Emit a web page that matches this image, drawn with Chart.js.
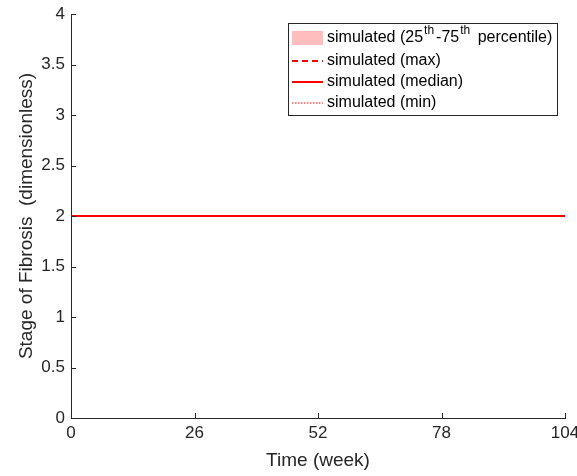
<!DOCTYPE html>
<html>
<head>
<meta charset="utf-8">
<script src="https://cdn.jsdelivr.net/npm/chart.js@4/dist/chart.umd.min.js"></script>
<style>
  body { margin: 0; background: #fff; }
  #wrap { width: 577px; height: 476px; }
</style>
</head>
<body>
<div id="wrap"><canvas id="myChart" width="577" height="476"></canvas></div>
<script>
// data
var weeks = [0, 13, 26, 39, 52, 65, 78, 91, 104];
var simMax = [2, 2, 2, 2, 2, 2, 2, 2, 2];
var simMedian = [2, 2, 2, 2, 2, 2, 2, 2, 2];
var simMin = [2, 2, 2, 2, 2, 2, 2, 2, 2];
var simP25 = [2, 2, 2, 2, 2, 2, 2, 2, 2];
var simP75 = [2, 2, 2, 2, 2, 2, 2, 2, 2];
var xTicks = [0, 26, 52, 78, 104];
var yTicks = [0, 0.5, 1, 1.5, 2, 2.5, 3, 3.5, 4];

function pts(ys) {
    return weeks.map(function (w, i) { return { x: w, y: ys[i] }; });
}

var FONT = '"Liberation Sans", Arial, sans-serif';
var AXIS = '#262626';

// MATLAB style ticks pointing into the plot
var innerTicks = {
    id: 'innerTicks',
    afterDraw: function (chart) {
        var c = chart.ctx, a = chart.chartArea;
        var xs = chart.scales.x, ys = chart.scales.y;
        c.save();
        c.strokeStyle = AXIS;
        c.lineWidth = 1;
        c.beginPath();
        xTicks.forEach(function (v) {
            var px = Math.round(xs.getPixelForValue(v)) + 0.5;
            c.moveTo(px, a.bottom);
            c.lineTo(px, a.bottom - 5);
        });
        yTicks.forEach(function (v) {
            var py = Math.round(ys.getPixelForValue(v)) + 0.5;
            c.moveTo(a.left, py);
            c.lineTo(a.left + 5, py);
        });
        c.stroke();
        c.restore();
    }
};

// legend box with superscripts
var matLegend = {
    id: 'matLegend',
    afterDraw: function (chart) {
        var c = chart.ctx;
        var bx = 288, by = 23, bw = 269, bh = 92;
        c.save();
        c.fillStyle = '#fff';
        c.fillRect(bx, by, bw, bh);
        c.strokeStyle = AXIS;
        c.lineWidth = 1;
        c.strokeRect(bx + 0.5, by + 0.5, bw, bh);

        var sx0 = 292, sx1 = 323, tx = 327;
        var rows = [38, 61, 82, 103];
        c.textBaseline = 'middle';

        // band swatch
        c.fillStyle = 'rgba(255,190,190,1)';
        c.fillRect(sx0, rows[0] - 7, sx1 - sx0, 14);
        c.fillStyle = '#000';
        var f = '16px ' + FONT, fs = '12px ' + FONT;
        var x = tx, y = rows[0];
        // [text, font, raise, gap after]
        var parts = [['simulated (25', f, 0, 1], ['th', fs, -7, 2], ['-75', f, 0, 1], ['th', fs, -7, 3], [' percentile)', f, 0, 0]];
        parts.forEach(function (p) {
            c.font = p[1];
            c.fillText(p[0], x, y + p[2]);
            x += c.measureText(p[0]).width + p[3];
        });

        var lines = [
            { label: 'simulated (max)', dash: [6, 4], w: 2 },
            { label: 'simulated (median)', dash: [], w: 2 },
            { label: 'simulated (min)', dash: [1.5, 1.5], w: 1.2 }
        ];
        lines.forEach(function (l, i) {
            var yy = rows[i + 1];
            c.strokeStyle = '#ff0000';
            c.lineWidth = l.w;
            c.setLineDash(l.dash);
            c.beginPath();
            c.moveTo(sx0, yy);
            c.lineTo(sx1, yy);
            c.stroke();
            c.setLineDash([]);
            c.font = f;
            c.fillStyle = '#000';
            c.fillText(l.label, tx, yy);
        });
        c.restore();
    }
};

var ctx = document.getElementById('myChart').getContext('2d');
var chart = new Chart(ctx, {
    type: 'line',
    data: {
        datasets: [
            { label: 'p75', data: pts(simP75), borderWidth: 0, pointRadius: 0,
              backgroundColor: 'rgba(255,190,190,1)', fill: '+1' },
            { label: 'p25', data: pts(simP25), borderWidth: 0, pointRadius: 0, fill: false },
            { label: 'simulated (max)', data: pts(simMax), borderColor: '#ff0000',
              borderWidth: 2, borderDash: [6, 4], pointRadius: 0, fill: false },
            { label: 'simulated (median)', data: pts(simMedian), borderColor: '#ff0000',
              borderWidth: 2, pointRadius: 0, fill: false },
            { label: 'simulated (min)', data: pts(simMin), borderColor: '#ff0000',
              borderWidth: 1.2, borderDash: [1.5, 1.5], pointRadius: 0, fill: false }
        ]
    },
    options: {
        responsive: false,
        animation: false,
        layout: { padding: { top: 14, right: 12, left: 0, bottom: 0 } },
        plugins: {
            legend: { display: false },
            tooltip: { enabled: false }
        },
        scales: {
            x: {
                type: 'linear',
                min: 0, max: 104,
                afterBuildTicks: function (s) { s.ticks = xTicks.map(function (v) { return { value: v }; }); },
                afterFit: function (s) { s.height = 58; s.paddingLeft = 0; s.paddingRight = 0; },
                grid: { drawOnChartArea: false, drawTicks: false },
                border: { color: AXIS, width: 1 },
                ticks: { color: '#262626', font: { family: FONT, size: 17 }, padding: 5, maxRotation: 0,
                         callback: function (v) { return String(v); } },
                title: { display: true, text: 'Time (week)', color: '#262626',
                         font: { family: FONT, size: 19 }, padding: { top: 4, bottom: 4 } }
            },
            y: {
                min: 0, max: 4,
                afterBuildTicks: function (s) { s.ticks = yTicks.map(function (v) { return { value: v }; }); },
                afterFit: function (s) { s.width = 71; s.paddingTop = 0; s.paddingBottom = 0; },
                grid: { drawOnChartArea: false, drawTicks: false },
                border: { color: AXIS, width: 1 },
                ticks: { color: '#262626', font: { family: FONT, size: 17 }, padding: 6,
                         callback: function (v) { return String(v); } },
                title: { display: true, text: 'Stage of Fibrosis  (dimensionless)', color: '#262626',
                         font: { family: FONT, size: 19 }, padding: { top: 15, bottom: 2 } }
            }
        }
    },
    plugins: [innerTicks, matLegend]
});
</script>
</body>
</html>
